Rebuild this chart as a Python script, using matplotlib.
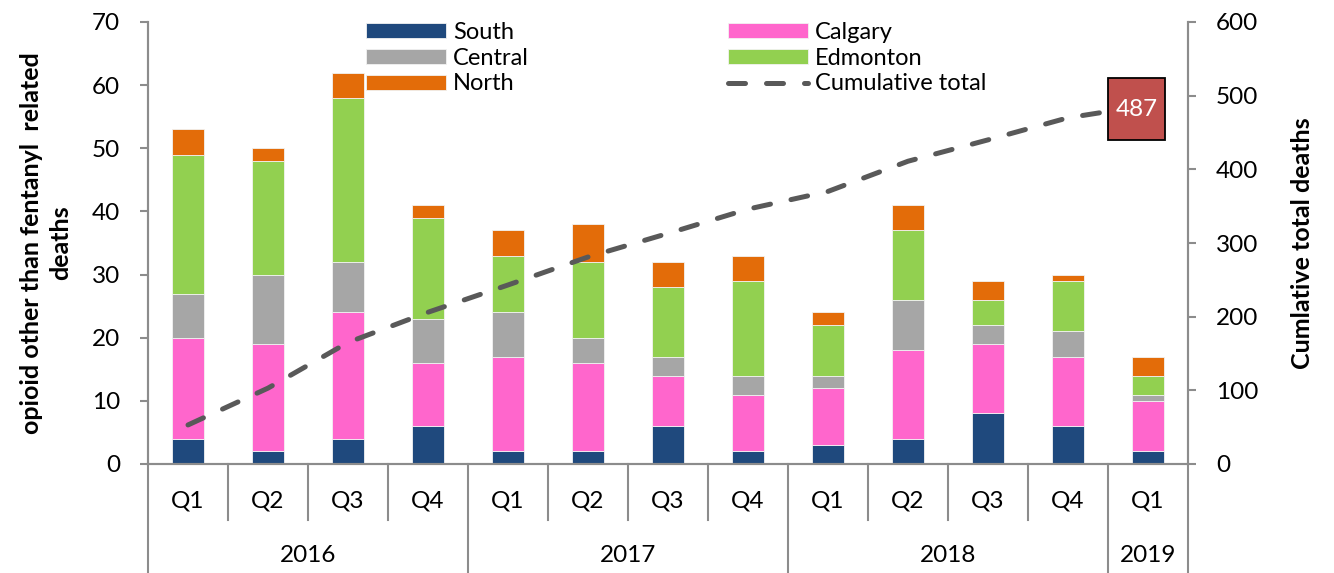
#!/usr/bin/env python

import numpy as np
import matplotlib as mpl
mpl.use('Agg')
import matplotlib.pyplot as plt
import matplotlib.transforms as mtransforms
from matplotlib.patches import Rectangle

plt.rcParams['font.family'] = ['Lato', 'DejaVu Sans']

quarters = ['Q1', 'Q2', 'Q3', 'Q4', 'Q1', 'Q2', 'Q3', 'Q4', 'Q1', 'Q2', 'Q3', 'Q4', 'Q1']
years = ['2016', '2017', '2018', '2019']
year_counts = [4, 4, 4, 1]

south = [4, 2, 4, 6, 2, 2, 6, 2, 3, 4, 8, 6, 2]
calgary = [16, 17, 20, 10, 15, 14, 8, 9, 9, 14, 11, 11, 8]
central = [7, 11, 8, 7, 7, 4, 3, 3, 2, 8, 3, 4, 1]
edmonton = [22, 18, 26, 16, 9, 12, 11, 15, 8, 11, 4, 8, 3]
north = [4, 2, 4, 2, 4, 6, 4, 4, 2, 4, 3, 1, 3]
cumulative = [53, 103, 165, 206, 243, 281, 313, 346, 370, 411, 440, 470, 487]

series = [
    ('South', south, '#1F497D'),
    ('Calgary', calgary, '#FF66CC'),
    ('Central', central, '#A6A6A6'),
    ('Edmonton', edmonton, '#92D050'),
    ('North', north, '#E36C09'),
]

AXIS_GREY = '#8C8C8C'
FS = 17.5      # tick / category labels
LEG_FS = 17
LAB_FS = 18


def main():
    fig = plt.figure(figsize=(13.34, 5.73), dpi=100)
    ax = fig.add_axes([148/1334, 109/573, 1040/1334, 442/573])
    ax2 = ax.twinx()

    x = np.arange(len(quarters))
    bottom = np.zeros(len(x))
    handles = {}
    for name, vals, color in series:
        vals = np.asarray(vals, dtype=float)
        bars = ax.bar(x, vals, width=0.4, bottom=bottom, color=color,
                      edgecolor='#F2F2F2', linewidth=0.6, label=name)
        handles[name] = bars
        bottom += vals

    line, = ax2.plot(x, cumulative, color='#595959', lw=3.6,
                     linestyle=(0, (3.4, 4.2)), dash_capstyle='round',
                     label='Cumulative total')

    # data label box on the last point (sized in inches around the point)
    box_tr = fig.dpi_scale_trans + mtransforms.ScaledTranslation(
        x[-1], cumulative[-1], ax2.transData)
    ax2.add_patch(Rectangle((-0.40, -0.35), 0.57, 0.62, transform=box_tr,
                            fc='#C0504D', ec='black', lw=1.3, clip_on=False,
                            zorder=5))
    ax2.annotate(str(cumulative[-1]), xy=(x[-1], cumulative[-1]),
                 xytext=(-8.3, -2.9), textcoords='offset points',
                 ha='center', va='center', color='white', fontsize=FS,
                 zorder=6)

    ax.set_xlim(-0.5, len(x) - 0.5)
    ax.set_ylim(0, 70)
    ax.set_yticks(np.arange(0, 71, 10))
    ax2.set_ylim(0, 600)
    ax2.set_yticks(np.arange(0, 601, 100))

    for a in (ax, ax2):
        a.spines['top'].set_visible(False)
        for s in ('left', 'right', 'bottom'):
            a.spines[s].set_color(AXIS_GREY)
            a.spines[s].set_linewidth(1.5)
        a.tick_params(axis='y', direction='out', length=6, width=1.5,
                      color=AXIS_GREY, labelsize=FS, pad=14)
    ax.set_xticks([])

    ax.set_ylabel('opioid other than fentanyl  related\ndeaths',
                  fontsize=LAB_FS, fontweight='bold', labelpad=14,
                  linespacing=1.35)
    ax2.set_ylabel('Cumlative total deaths', fontsize=LAB_FS,
                   fontweight='bold', labelpad=24)

    # two level category axis
    trans = mtransforms.blended_transform_factory(ax.transData, ax.transAxes)
    for i, q in enumerate(quarters):
        ax.text(i, -0.083, q, transform=trans, ha='center', va='center',
                fontsize=FS)
    year_edges = np.concatenate([[0], np.cumsum(year_counts)]) - 0.5
    for k in range(1, len(quarters)):
        if k - 0.5 not in year_edges:
            ax.plot([k - 0.5, k - 0.5], [0, -0.127], transform=trans,
                    color=AXIS_GREY, lw=1.5, clip_on=False)
    for e in year_edges:
        ax.plot([e, e], [0, -0.26], transform=trans, color=AXIS_GREY,
                lw=1.5, clip_on=False)
    for yr, lo, hi in zip(years, year_edges[:-1], year_edges[1:]):
        ax.text((lo + hi) / 2, -0.207, yr, transform=trans, ha='center',
                va='center', fontsize=FS)

    order = ['South', 'Central', 'North', 'Calgary', 'Edmonton']
    leg_handles = [handles[n] for n in order] + [line]
    leg_labels = order + ['Cumulative total']
    ax2.legend(leg_handles, leg_labels, ncol=2, loc='upper left',
               bbox_to_anchor=((366 - 148) / 1040, (464 - 22) / 442),
               frameon=False, fontsize=LEG_FS, borderpad=0, borderaxespad=0,
               labelspacing=0.2, handlelength=3.4, handleheight=0.6,
               handletextpad=0.3, columnspacing=8.4)

    fig.savefig('out.png', dpi=100)


if __name__ == '__main__':
    main()
